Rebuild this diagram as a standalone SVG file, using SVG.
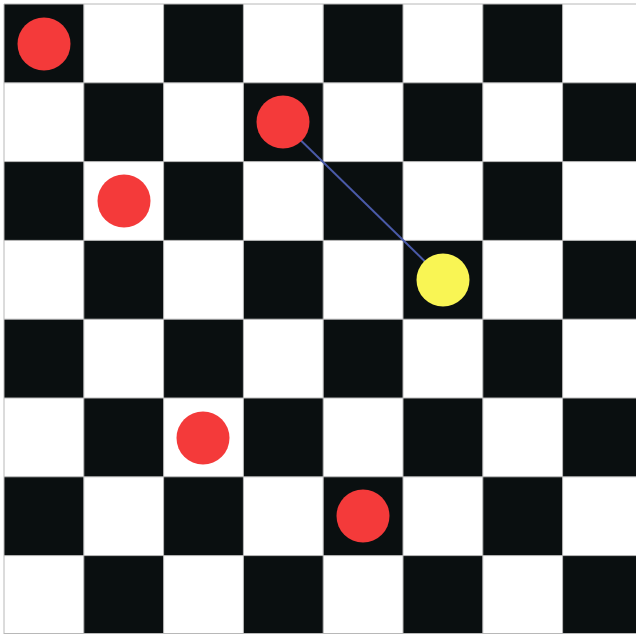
<svg xmlns="http://www.w3.org/2000/svg" width="636" height="634" viewBox="0 0 636 634">
<defs>
<style>
.w{fill:#ffffff}
.b{fill:#0a0f10}
.grid{stroke:#b8b8b8;stroke-width:1;fill:none}
.red{fill:#f43a3a}
.yel{fill:#f9f554}
.link{stroke:#4a5aa8;stroke-width:2}
</style>
<pattern id="chk" x="4" y="4" width="159.6" height="157.6" patternUnits="userSpaceOnUse">
<rect width="159.6" height="157.6" fill="#ffffff"/>
<rect x="0" y="0" width="79.8" height="78.8" fill="#0a0f10"/>
<rect x="79.8" y="78.8" width="79.8" height="78.8" fill="#0a0f10"/>
</pattern>
</defs>
<rect width="636" height="634" fill="#ffffff"/>
<g id="board">
<rect x="4" y="4" width="638.4" height="630.4" fill="url(#chk)"/>
<path class="grid" d="M4,4V634M83.8,4V634M163.6,4V634M243.4,4V634M323.2,4V634M403,4V634M482.8,4V634M562.6,4V634M4,4H636M4,82.8H636M4,161.6H636M4,240.4H636M4,319.2H636M4,398H636M4,476.8H636M4,555.6H636M4,633.5H636"/>
</g>
<g id="connectors">
<line class="link" x1="283" y1="123" x2="444" y2="280"/>
</g>
<g id="piece-a1"><circle class="red" cx="44" cy="44" r="26.5"/></g>
<g id="piece-b1"><circle class="red" cx="283" cy="122" r="26.5"/></g>
<g id="piece-c1"><circle class="red" cx="124" cy="201" r="26.5"/></g>
<g id="piece-d1"><circle class="red" cx="203" cy="438" r="26.5"/></g>
<g id="piece-e1"><circle class="red" cx="363" cy="516" r="26.5"/></g>
<g id="piece-yellow"><circle class="yel" cx="443" cy="280" r="26.5"/></g>
</svg>
